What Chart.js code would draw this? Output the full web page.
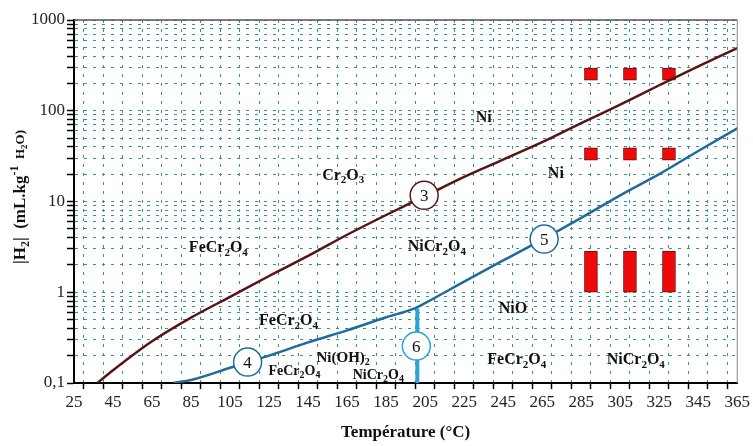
<!DOCTYPE html>
<html>
<head>
<meta charset="utf-8">
<title>H2 - Température</title>
<script src="https://cdn.jsdelivr.net/npm/chart.js@4.4.1/dist/chart.umd.min.js"></script>
<style>
  html, body { margin: 0; padding: 0; background: #fff; }
  #wrap { width: 753px; height: 446px; }
</style>
</head>
<body>
<div id="wrap"><canvas id="chart" width="753" height="446"></canvas></div>
<script>
// données
const xTicks = [25, 35, 45, 55, 65, 75, 85, 95, 105, 115, 125, 135, 145, 155, 165, 175, 185, 195, 205, 215, 225, 235, 245, 255, 265, 275, 285, 295, 305, 315, 325, 335, 345, 355, 365];
const yMajor = [0.1, 1, 10, 100, 1000];

// courbe 3
const tempLine3 = [37, 45, 65, 85, 105, 125, 145, 165, 185, 205, 225, 245, 265, 285, 305, 325, 345, 365];
const h2Line3 = [0.1, 0.138, 0.288, 0.525, 0.89, 1.51, 2.51, 4.3, 7.1, 11.5, 18.7, 29, 45, 73, 117, 191, 309, 490];

// courbes 4 et 5
const tempLine45 = [76, 85, 105, 125, 145, 165, 185, 200, 205, 225, 245, 265, 285, 305, 325, 345, 365];
const h2Line45 = [0.1, 0.108, 0.147, 0.2, 0.28, 0.38, 0.53, 0.67, 0.76, 1.31, 2.24, 3.8, 6.6, 11.7, 20, 36, 64];

// droite 6 (verticale)
const tempLine6 = [201, 201];
const h2Line6 = [0.1, 0.66];

// essais (rectangles rouges)
const barTemps = [290, 310, 330];
const barRanges = [[217, 295], [28.5, 39], [1.0, 2.85]];

// cercles numérotés
const circleNames = ['3', '4', '5', '6'];
const circleTemps = [204.5, 114, 266, 200.5];
const circleH2 = [11.7, 0.17, 3.85, 0.255];
const circleColors = ['#5a1414', '#1f6b9c', '#1f6b9c', '#2aa3d6'];

// étiquettes des domaines
const regionText = ['Ni', 'Cr2O3', 'Ni', 'FeCr2O4', 'NiCr2O4', 'FeCr2O4', 'NiO', 'Ni(OH)2', 'FeCr2O4', 'NiCr2O4', 'FeCr2O4', 'NiCr2O4'];
const regionTemps = [235, 163, 272, 99, 211, 135, 250, 163, 138, 181, 252, 313];
const regionH2 = [83, 19.4, 20, 3.05, 3.13, 0.48, 0.65, 0.19, 0.135, 0.122, 0.178, 0.178];
const regionSize = [16, 16, 16, 16, 16, 16, 16, 15, 14, 14, 16, 16];

const SERIF = '"Liberation Serif", "Times New Roman", serif';

function toPoints(xs, ys) {
    return xs.map((x, i) => ({ x: x, y: ys[i] }));
}

// texte avec indices / exposants : [texte, type, taille]
function drawRich(ctx, parts, cx, cy, size, bold) {
    const w = bold ? 'bold ' : '';
    const fontOf = p => {
        const base = p[2] || size;
        return w + Math.round(p[1] ? base * 0.68 : base) + 'px ' + SERIF;
    };
    let total = 0;
    parts.forEach(p => {
        ctx.font = fontOf(p);
        p.width = ctx.measureText(p[0]).width;
        total += p.width;
    });
    let x = cx - total / 2;
    ctx.textAlign = 'left';
    ctx.textBaseline = 'middle';
    parts.forEach(p => {
        const base = p[2] || size;
        ctx.font = fontOf(p);
        let dy = 0;
        if (p[1] === 1) dy = base * 0.3;
        if (p[1] === 2) dy = -size * 0.35;
        ctx.fillText(p[0], x, cy + dy);
        x += p.width;
    });
}

function formulaParts(txt) {
    const parts = [];
    const re = /(\d+)|([^\d]+)/g;
    let m;
    while ((m = re.exec(txt)) !== null) {
        if (m[1]) parts.push([m[1], 1]);
        else parts.push([m[2], 0]);
    }
    return parts;
}

const annotations = {
    id: 'annotations',
    afterDatasetsDraw(chart) {
        const ctx = chart.ctx;
        const xs = chart.scales.x, ys = chart.scales.y;
        const area = chart.chartArea;
        ctx.save();

        // cadre haut et droite
        ctx.strokeStyle = '#555';
        ctx.lineWidth = 1.5;
        ctx.beginPath();
        ctx.moveTo(area.left, area.top);
        ctx.lineTo(area.right, area.top);
        ctx.stroke();
        ctx.strokeStyle = '#888';
        ctx.lineWidth = 1;
        ctx.beginPath();
        ctx.moveTo(area.right, area.top);
        ctx.lineTo(area.right, area.bottom);
        ctx.stroke();

        // étiquettes des domaines
        ctx.fillStyle = '#111';
        regionText.forEach((t, i) => {
            drawRich(ctx, formulaParts(t), xs.getPixelForValue(regionTemps[i]), ys.getPixelForValue(regionH2[i]), regionSize[i], true);
        });

        // numéros dans les cercles
        ctx.font = '17px ' + SERIF;
        ctx.textAlign = 'center';
        ctx.textBaseline = 'middle';
        circleNames.forEach((n, i) => {
            ctx.fillText(n, xs.getPixelForValue(circleTemps[i]), ys.getPixelForValue(circleH2[i]) + 1);
        });

        // titre de l'axe y
        ctx.translate(21, 197);
        ctx.rotate(-Math.PI / 2);
        drawRich(ctx, [['|H', 0], ['2', 1], ['|  (mL.kg', 0], ['-1', 2], ['  H', 0, 13], ['2', 1, 13], ['O)', 0, 13]], 0, 0, 17, true);
        ctx.restore();
    }
};

const barData = [];
barRanges.forEach(r => {
    barTemps.forEach(t => barData.push({ x: t, y: r }));
});

const gridColor = '#35948f';

new Chart(document.getElementById('chart'), {
    type: 'line',
    data: {
        datasets: [
            {
                type: 'scatter',
                data: toPoints(circleTemps, circleH2),
                pointRadius: 14,
                pointHoverRadius: 14,
                pointBackgroundColor: '#fff',
                pointBorderColor: circleColors,
                pointBorderWidth: 1.5,
                showLine: false,
                order: 0
            },
            {
                data: toPoints(tempLine3, h2Line3),
                borderColor: '#5a1414',
                borderWidth: 2.5,
                pointRadius: 0,
                cubicInterpolationMode: 'monotone',
                order: 1
            },
            {
                data: toPoints(tempLine45, h2Line45),
                borderColor: '#1f6b9c',
                borderWidth: 2.5,
                pointRadius: 0,
                cubicInterpolationMode: 'monotone',
                order: 2
            },
            {
                data: toPoints(tempLine6, h2Line6),
                borderColor: '#2aa3d6',
                borderWidth: 4,
                pointRadius: 0,
                order: 3
            },
            {
                type: 'bar',
                data: barData,
                backgroundColor: '#ee0a0a',
                borderColor: '#6e0a0a',
                borderWidth: 1,
                borderSkipped: false,
                barThickness: 13,
                order: 4
            }
        ]
    },
    options: {
        responsive: false,
        animation: false,
        devicePixelRatio: 1,
        layout: { padding: { top: 20, right: 5, left: 0, bottom: 0 } },
        plugins: {
            legend: { display: false },
            tooltip: { enabled: false }
        },
        scales: {
            x: {
                type: 'linear',
                min: 25,
                max: 365,
                offset: false,
                afterBuildTicks: s => { s.ticks = xTicks.map(v => ({ value: v })); },
                afterFit: s => { s.height = 63; },
                ticks: {
                    autoSkip: false,
                    maxRotation: 0,
                    padding: 3,
                    color: '#222',
                    font: { family: SERIF, size: 17 },
                    callback: v => ((v - 25) % 20 === 0 ? String(v) : '')
                },
                grid: { color: gridColor, lineWidth: 1, tickColor: '#000', tickLength: 6, tickWidth: 1.5 },
                border: { color: '#000', width: 2, dash: [3, 6] },
                title: {
                    display: true,
                    text: 'Température (°C)',
                    color: '#111',
                    font: { family: SERIF, size: 17, weight: 'bold' },
                    padding: { top: 0, bottom: 3 }
                }
            },
            y: {
                type: 'logarithmic',
                min: 0.1,
                max: 1000,
                afterBuildTicks: s => {
                    const t = [];
                    yMajor.slice(0, -1).forEach(d => {
                        for (let k = 1; k < 10; k++) t.push({ value: +(d * k).toPrecision(3) });
                    });
                    t.push({ value: 1000 });
                    s.ticks = t;
                },
                afterFit: s => { s.width = 74; },
                ticks: {
                    autoSkip: false,
                    padding: 2,
                    color: '#222',
                    font: { family: SERIF, size: 17 },
                    callback: v => (yMajor.includes(v) ? String(v).replace('.', ',') : '')
                },
                grid: { color: gridColor, lineWidth: 1, tickColor: '#000', tickLength: 7, tickWidth: 1.5 },
                border: { color: '#000', width: 2, dash: [3, 6] }
            }
        }
    },
    plugins: [annotations]
});
</script>
</body>
</html>
